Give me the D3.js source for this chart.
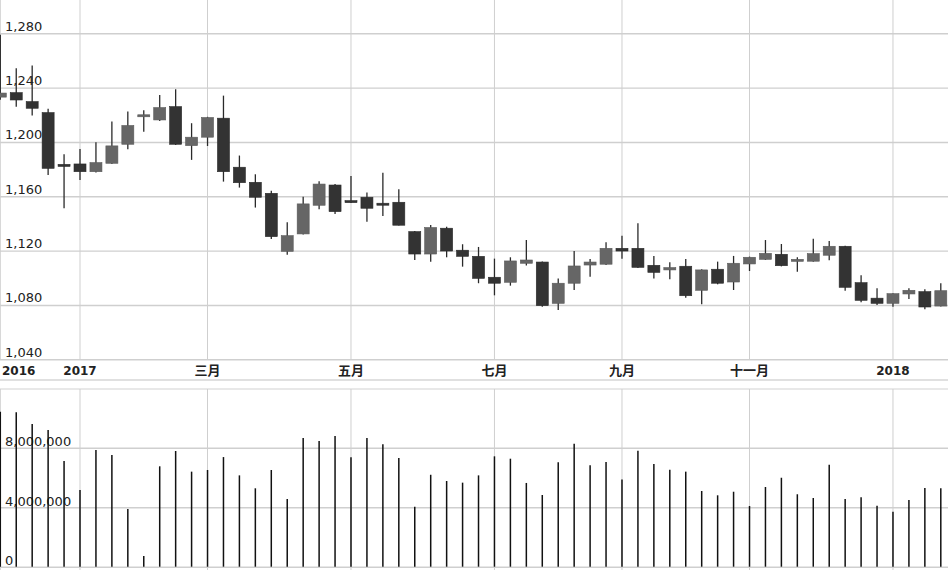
<!DOCTYPE html>
<html><head><meta charset="utf-8">
<script src="https://cdn.jsdelivr.net/npm/d3@7"></script>
<style>body{margin:0;background:#fff}svg{display:block}</style>
</head><body><svg id="c" width="948" height="570"></svg>
<script>
const dates = ["2016-12-02","2016-12-09","2016-12-16","2016-12-23","2016-12-30",
"2017-01-06","2017-01-13","2017-01-20","2017-01-26","2017-02-03","2017-02-10","2017-02-17","2017-02-24",
"2017-03-03","2017-03-10","2017-03-17","2017-03-24","2017-03-31","2017-04-07","2017-04-14","2017-04-21","2017-04-28",
"2017-05-05","2017-05-12","2017-05-19","2017-05-26","2017-06-02","2017-06-09","2017-06-16","2017-06-23","2017-06-30",
"2017-07-07","2017-07-14","2017-07-21","2017-07-28","2017-08-04","2017-08-11","2017-08-18","2017-08-25",
"2017-09-01","2017-09-08","2017-09-15","2017-09-22","2017-09-29","2017-10-13","2017-10-20","2017-10-27",
"2017-11-03","2017-11-10","2017-11-17","2017-11-24","2017-12-01","2017-12-08","2017-12-15","2017-12-22","2017-12-29",
"2018-01-05","2018-01-12","2018-01-19","2018-01-26"];
const open  = [1233,1236.3,1229.7,1221.6,1183.5,1183.8,1178.1,1184.3,1198.3,1219.5,1216.2,1226,1197.3,1203.5,1217.5,1181.4,1170.3,1162.2,1119.5,1132.3,1153.4,1168.3,1156.8,1159.3,1154.9,1155.6,1134,1117.5,1136.5,1120.3,1115.8,1100.4,1096.7,1110.7,1111.6,1081.2,1096,1109.4,1110,1121.7,1121.7,1109.2,1105.8,1108.5,1090.8,1106.3,1096.9,1110.2,1113.6,1117.3,1112.2,1112.2,1116.6,1123.2,1096.4,1085,1081.2,1088.1,1089.8,1079.2];
const high  = [1279,1254.3,1256.2,1224.5,1191,1194.9,1199.8,1215,1222.4,1223.4,1234.6,1238.8,1213.8,1218.5,1234.1,1190,1176.2,1164,1140.9,1159.7,1171,1169,1175,1162.7,1177.4,1165.2,1134.5,1138.9,1137.6,1124.7,1122.7,1114.1,1115.1,1127.8,1112,1099.4,1119.7,1113.9,1126.2,1131,1140.1,1116.1,1111.4,1113.9,1106.2,1111.9,1116.1,1115.6,1127.8,1124.9,1115.1,1128.8,1127.1,1123.6,1101.9,1092.3,1088.6,1092.3,1091.5,1096];
const low   = [1231,1226,1219.4,1175.7,1151.2,1172,1177.5,1183.8,1194.6,1207.5,1215.5,1197.8,1186.8,1197,1170.8,1166.4,1151.7,1128.6,1117,1131.8,1150.5,1147,1155,1141.3,1145.5,1138.5,1113.1,1111.9,1115.1,1108.2,1096,1087.1,1094.2,1109,1078.7,1076.3,1091,1100.8,1109.5,1114.1,1107.2,1099.4,1098.9,1085.4,1080.5,1095.2,1091,1105,1113.1,1108.4,1104.5,1111.8,1112.9,1090.5,1082,1080,1078.7,1084.4,1076.8,1078.9];
const close = [1236,1230.9,1224.8,1180.6,1182,1178.1,1184.8,1197.1,1212.1,1220,1225.3,1198.3,1203.5,1218,1178.1,1170,1159.3,1130.3,1131,1154.4,1169,1148.7,1155.6,1151.2,1154.1,1138.7,1117.5,1137,1119.7,1115.8,1099.6,1096,1112.4,1113.1,1079.5,1096,1108.7,1111.6,1121.7,1119.7,1107.7,1104,1107.5,1086.8,1105.8,1096,1110.7,1115.1,1118,1108.9,1113.6,1117.8,1123.2,1093,1083.4,1081.2,1088.3,1090.8,1078.5,1090.5];
const volume = [10.42,10.38,9.59,9.19,7.11,5.16,7.85,7.51,3.88,0.72,6.75,7.78,6.39,6.50,7.37,6.14,5.27,6.50,4.55,8.65,8.45,8.79,7.35,8.65,8.23,7.31,4.03,6.18,5.76,5.65,6.14,7.42,7.26,5.63,4.82,7.02,8.27,6.82,7.04,5.87,7.80,6.90,6.52,6.39,5.09,4.80,5.04,4.08,5.36,5.98,4.87,4.62,6.86,4.55,4.67,4.10,3.70,4.48,5.29,5.27].map(v => v * 1e6);
const xLabelDates = ["2016-12-02","2017-01-06","2017-03-03","2017-05-05","2017-07-07","2017-09-01","2017-11-03","2018-01-05"];
const xLabelText  = ["2016","2017","三月","五月","七月","九月","十一月","2018"];
const priceTicks  = [1040,1080,1120,1160,1200,1240,1280];
const volumeTicks = [0,4000000,8000000];

const W = 948;
const svg = d3.select("#c");
const gridColor = "#cfcfcf";
const fontFam = "'DejaVu Sans', 'Noto Sans CJK SC', sans-serif";

const x = d3.scalePoint().domain(dates).range([0.3, 940.8]);
const y = d3.scaleLinear().domain([1040, 1304.5]).range([359.3, 0]);
const yv = d3.scaleLinear().domain([0, 12e6]).range([566.7, 388.2]);

// horizontal gridlines + labels (price)
const gy = svg.append("g").attr("class", "price-axis")
  .call(d3.axisRight(y).tickValues(priceTicks).tickSize(W).tickFormat(d3.format(",")));
gy.select(".domain").remove();
gy.selectAll(".tick line").attr("stroke", gridColor).attr("stroke-width", 1.4);
gy.selectAll(".tick text").attr("x", 5).attr("dy", -3).attr("text-anchor", "start")
  .attr("fill", "#222").style("font-family", fontFam).style("font-size", "13px");

// volume gridlines + labels
const gvy = svg.append("g").attr("class", "vol-axis")
  .call(d3.axisRight(yv).tickValues(volumeTicks).tickSize(W).tickFormat(d3.format(",")));
gvy.select(".domain").remove();
gvy.selectAll(".tick line").attr("stroke", gridColor).attr("stroke-width", 1.4);
gvy.selectAll(".tick text").attr("x", 5).attr("dy", -2).attr("text-anchor", "start")
  .attr("fill", "#222").style("font-family", fontFam).style("font-size", "13px");

// panel separators
svg.append("line").attr("x1", 0).attr("x2", W).attr("y1", 380).attr("y2", 380).attr("stroke", "#d6d6d6").attr("stroke-width", 1.4);
svg.append("line").attr("x1", 0).attr("x2", W).attr("y1", 389).attr("y2", 389).attr("stroke", "#e0e0e0").attr("stroke-width", 1.4);

// vertical gridlines
const vgrid = svg.append("g");
xLabelDates.forEach(d => {
  vgrid.append("line").attr("x1", x(d)).attr("x2", x(d)).attr("y1", 0).attr("y2", y(1040)).attr("stroke", gridColor).attr("stroke-width", 1);
  vgrid.append("line").attr("x1", x(d)).attr("x2", x(d)).attr("y1", 389).attr("y2", 570).attr("stroke", gridColor).attr("stroke-width", 1);
});

// x labels
const gx = svg.append("g").attr("transform", "translate(0,375)");
xLabelDates.forEach((d, i) => {
  const t = gx.append("text").text(xLabelText[i])
    .attr("fill", "#222").style("font-family", fontFam).style("font-weight", "bold")
    .style("font-size", /^\d+$/.test(xLabelText[i]) ? "12px" : "13px")
    .attr("text-anchor", "middle").attr("x", x(d));
  const w = t.node().getComputedTextLength();
  if (x(d) - w / 2 < 2) t.attr("x", 2 + w / 2);
});

// candles
const data = dates.map((d, i) => ({d, o: open[i], h: high[i], l: low[i], c: close[i], v: volume[i]}));
const bw = 12;
const cg = svg.append("g");
cg.selectAll("line.wick").data(data).join("line").attr("class", "wick")
  .attr("x1", d => x(d.d)).attr("x2", d => x(d.d))
  .attr("y1", d => y(d.h)).attr("y2", d => y(d.l))
  .attr("stroke", "#2a2a2a").attr("stroke-width", 1.3);
cg.selectAll("rect.body").data(data).join("rect").attr("class", "body")
  .attr("x", d => x(d.d) - bw / 2).attr("width", bw)
  .attr("y", d => y(Math.max(d.o, d.c)))
  .attr("height", d => Math.max(2, Math.abs(y(d.o) - y(d.c))))
  .attr("fill", d => d.c >= d.o ? "#666666" : "#333333")
  .attr("stroke", d => d.c >= d.o ? "#5a5a5a" : "#2a2a2a").attr("stroke-width", 0.6);

// volume lines
svg.append("g").selectAll("line").data(data).join("line")
  .attr("x1", d => x(d.d)).attr("x2", d => x(d.d))
  .attr("y1", yv(0)).attr("y2", d => yv(d.v))
  .attr("stroke", "#111").attr("stroke-width", 1.5);
</script></body></html>
